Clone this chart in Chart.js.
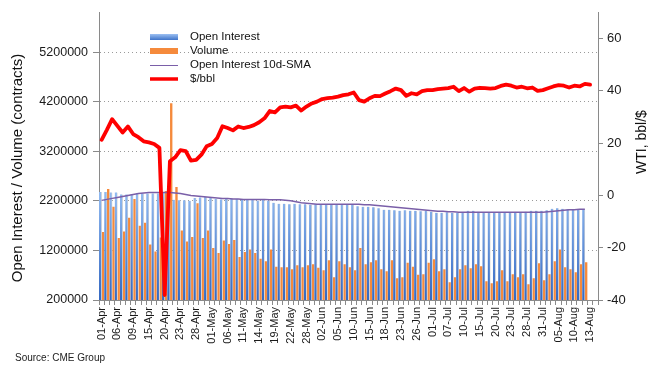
<!DOCTYPE html>
<html><head><meta charset="utf-8">
<script src="https://cdn.jsdelivr.net/npm/chart.js@4.4.0/dist/chart.umd.min.js"></script>
<style>html,body{margin:0;padding:0;background:#fff;}#wrap{position:relative;width:659px;height:378px;}</style>
</head><body><div id="wrap"><canvas id="c" width="659" height="378"></canvas></div>
<script>
const categories = ['01-Apr','02-Apr','03-Apr','06-Apr','07-Apr','08-Apr','09-Apr','13-Apr','14-Apr','15-Apr','16-Apr','17-Apr','20-Apr','21-Apr','22-Apr','23-Apr','24-Apr','27-Apr','28-Apr','29-Apr','30-Apr','01-May','04-May','05-May','06-May','07-May','08-May','11-May','12-May','13-May','14-May','15-May','18-May','19-May','20-May','21-May','22-May','26-May','27-May','28-May','29-May','01-Jun','02-Jun','03-Jun','04-Jun','05-Jun','08-Jun','09-Jun','10-Jun','11-Jun','12-Jun','15-Jun','16-Jun','17-Jun','18-Jun','19-Jun','22-Jun','23-Jun','24-Jun','25-Jun','26-Jun','29-Jun','30-Jun','01-Jul','02-Jul','06-Jul','07-Jul','08-Jul','09-Jul','10-Jul','13-Jul','14-Jul','15-Jul','16-Jul','17-Jul','20-Jul','21-Jul','22-Jul','23-Jul','24-Jul','27-Jul','28-Jul','29-Jul','30-Jul','31-Jul','03-Aug','04-Aug','05-Aug','06-Aug','07-Aug','10-Aug','11-Aug','12-Aug','13-Aug','14-Aug'];

const openInterest = [2380000,2380000,2370000,2370000,2330000,2330000,2340000,2350000,2350000,2350000,
2350000,2350000,2360000,2300000,2220000,2210000,2210000,2200000,2260000,2270000,
2280000,2270000,2240000,2230000,2240000,2250000,2240000,2230000,2240000,2220000,
2200000,2220000,2200000,2160000,2140000,2140000,2130000,2140000,2130000,2130000,
2120000,2130000,2120000,2120000,2120000,2120000,2120000,2120000,2120000,2090000,
2080000,2080000,2070000,2050000,2020000,2020000,2010000,2000000,2010000,2000000,
2000000,1990000,2000000,1980000,1960000,1960000,1970000,1960000,1960000,1970000,
2000000,2000000,1980000,1960000,1960000,1970000,1960000,1960000,1960000,1960000,
1970000,1980000,2000000,2000000,2000000,2010000,2040000,2050000,2040000,2030000,
2020000,2030000,2030000,null,null];

const volume = [1570000,2440000,2080000,1450000,1580000,1860000,2240000,1700000,1760000,1320000,
1180000,1460000,2400000,4170000,2480000,1600000,1380000,1470000,2150000,1450000,
1600000,1250000,1150000,1400000,1330000,1410000,1070000,1170000,1220000,1150000,
1030000,980000,1220000,870000,860000,860000,820000,900000,860000,900000,
920000,850000,800000,1000000,660000,980000,920000,860000,800000,1250000,
920000,960000,1000000,820000,780000,1000000,640000,660000,950000,870000,
710000,720000,950000,1020000,780000,820000,560000,660000,820000,900000,
840000,920000,880000,580000,540000,580000,800000,580000,720000,660000,
720000,520000,640000,940000,600000,720000,980000,1220000,860000,820000,
760000,920000,960000,null,null];

const oiSma10d = [2210000,2230000,2250000,2270000,2290000,2310000,2330000,2350000,2360000,2370000,
2370000,2370000,2370000,2370000,2360000,2350000,2330000,2310000,2300000,2290000,
2280000,2270000,2260000,2250000,2250000,2240000,2240000,2230000,2230000,2230000,
2230000,2230000,2220000,2220000,2220000,2210000,2200000,2180000,2160000,2150000,
2140000,2130000,2130000,2130000,2130000,2130000,2130000,2130000,2130000,2130000,
2120000,2120000,2110000,2100000,2090000,2080000,2070000,2060000,2050000,2040000,
2030000,2020000,2010000,2000000,1990000,1990000,1980000,1980000,1970000,1970000,
1970000,1970000,1970000,1970000,1970000,1970000,1970000,1970000,1970000,1970000,
1970000,1970000,1970000,1970000,1970000,1980000,1990000,2000000,2010000,2020000,
2020000,2030000,2030000,null,null];

const wtiPrice = [21.3,25.1,29.2,26.6,24.1,26.4,23.5,22.3,20.7,20.3,
19.7,18.2,-38.1,13.1,14.6,17.3,17.0,13.3,13.6,15.6,
18.8,19.7,22.0,26.5,25.8,24.9,26.4,25.8,26.2,26.9,
28.0,29.5,32.3,31.8,33.7,34.0,33.7,34.4,32.5,34.0,
35.2,35.9,36.9,37.2,37.4,37.8,38.4,38.7,39.4,36.5,
35.9,37.2,38.1,38.0,39.0,39.9,40.9,40.3,38.1,39.1,
38.7,39.9,40.3,40.3,40.7,40.9,41.1,41.6,39.9,41.1,
39.7,40.9,41.2,41.1,40.9,41.1,41.9,42.4,42.0,41.3,
41.6,41.0,41.3,40.0,40.3,41.0,41.7,42.2,42.0,41.3,
42.0,41.7,42.7,42.4,null];

const leftTicks = [200000,1200000,2200000,3200000,4200000,5200000];
const rightTicks = [-40,-20,0,20,40,60];
const seriesNames = ['Open Interest','Volume','Open Interest 10d-SMA','$/bbl'];
const axisTitles = ['Open Interest / Volume (contracts)','WTI, bbl/$'];
const sourceNote = 'Source: CME Group';

const FONT = "'Liberation Sans', Arial, sans-serif";
Chart.defaults.font.family = FONT;
Chart.defaults.color = '#1a1a1a';

const COL = {orange:'#f58a3c', purple:'#7a5fa8', red:'#ff0000', axis:'#8a8a8a', grid:'#9a9a9a'};

function oiFill(c){
  const ch = c.chart, a = ch.chartArea;
  if (!a) return '#6f9ee3';
  const g = ch.ctx.createLinearGradient(0, a.bottom, 0, a.bottom - 110);
  g.addColorStop(0, '#3468c2');
  g.addColorStop(1, '#93bcf2');
  return g;
}

const decor = {
  id: 'decor',
  afterDraw(chart){
    const ctx = chart.ctx;
    ctx.save();
    const lx = 150, lw = 28, tx = 190, rows = [37, 51, 65, 79];
    let g = ctx.createLinearGradient(0, rows[0]-3, 0, rows[0]+3);
    g.addColorStop(0, '#9cc0f2'); g.addColorStop(1, '#3f74c9');
    ctx.fillStyle = g; ctx.fillRect(lx, rows[0]-3, lw, 6);
    ctx.fillStyle = COL.orange; ctx.fillRect(lx, rows[1]-3, lw, 6);
    ctx.strokeStyle = COL.purple; ctx.lineWidth = 1;
    ctx.beginPath(); ctx.moveTo(lx, rows[2]+0.5); ctx.lineTo(lx+lw, rows[2]+0.5); ctx.stroke();
    ctx.strokeStyle = COL.red; ctx.lineWidth = 3.5;
    ctx.beginPath(); ctx.moveTo(lx, rows[3]); ctx.lineTo(lx+lw, rows[3]); ctx.stroke();
    ctx.fillStyle = '#111'; ctx.font = '11.5px ' + FONT;
    ctx.textAlign = 'left'; ctx.textBaseline = 'middle';
    seriesNames.forEach((n, i) => ctx.fillText(n, tx, rows[i]));
    ctx.font = '15px ' + FONT; ctx.textAlign = 'center';
    ctx.save(); ctx.translate(18, 168); ctx.rotate(-Math.PI/2); ctx.fillText(axisTitles[0], 0, 0); ctx.restore();
    ctx.font = '14px ' + FONT;
    ctx.save(); ctx.translate(642, 142); ctx.rotate(-Math.PI/2); ctx.fillText(axisTitles[1], 0, 0); ctx.restore();
    ctx.font = '10px ' + FONT; ctx.textAlign = 'left'; ctx.fillStyle = '#222';
    ctx.fillText(sourceNote, 15, 358);
    ctx.restore();
  }
};

new Chart(document.getElementById('c'), {
  type: 'bar',
  data: {
    labels: categories,
    datasets: [
      {label: seriesNames[0], data: openInterest, yAxisID: 'y', order: 1,
       backgroundColor: oiFill, borderColor: '#d6d6d6', borderWidth: {right: 0.8, left: 0, top: 0, bottom: 0},
       borderSkipped: false, categoryPercentage: 1.0, barPercentage: 1.0},
      {label: seriesNames[1], data: volume, yAxisID: 'y', order: 1,
       backgroundColor: COL.orange, borderWidth: 0, categoryPercentage: 1.0, barPercentage: 0.9},
      {type: 'line', label: seriesNames[2], data: oiSma10d, yAxisID: 'y', order: 0,
       borderColor: COL.purple, borderWidth: 1.5, pointRadius: 0, tension: 0, fill: false},
      {type: 'line', label: seriesNames[3], data: wtiPrice, yAxisID: 'y2', order: -1,
       borderColor: COL.red, borderWidth: 3.8, pointRadius: 0, tension: 0, fill: false,
       borderJoinStyle: 'round', borderCapStyle: 'round'}
    ]
  },
  options: {
    responsive: false,
    animation: false,
    layout: {padding: {top: 10, left: 0, right: 0, bottom: 0}},
    plugins: {legend: {display: false}, tooltip: {enabled: false}},
    scales: {
      x: {
        type: 'category',
        offset: true,
        afterFit: s => { s.height = 78; },
        grid: {display: true, drawOnChartArea: false, drawTicks: true, tickLength: 5, color: COL.axis},
        border: {display: true, color: COL.axis},
        ticks: {autoSkip: false, maxRotation: 90, minRotation: 90, padding: 2,
                font: {size: 11}, color: '#1a1a1a',
                callback: (v, i) => (i % 3 === 0 ? categories[i] : '')}
      },
      y: {
        position: 'left', min: 200000, max: 6000000,
        afterFit: s => { s.width = 99; },
        afterBuildTicks: s => { s.ticks = leftTicks.map(v => ({value: v})); },
        grid: {display: true, drawOnChartArea: true, drawTicks: true, tickLength: 6,
               color: COL.grid, tickColor: COL.axis, lineWidth: 1},
        border: {display: true, color: COL.axis, dash: [1, 3]},
        ticks: {padding: 5, font: {size: 12.5}, color: '#1a1a1a', callback: v => String(v)}
      },
      y2: {
        position: 'right', min: -40, max: 70,
        afterFit: s => { s.width = 61; },
        afterBuildTicks: s => { s.ticks = rightTicks.map(v => ({value: v})); },
        grid: {display: true, drawOnChartArea: false, drawTicks: true, tickLength: 5, color: COL.axis},
        border: {display: true, color: COL.axis},
        ticks: {padding: 4, font: {size: 13}, color: '#1a1a1a', callback: v => String(v)}
      }
    }
  },
  plugins: [decor]
});
</script></body></html>
